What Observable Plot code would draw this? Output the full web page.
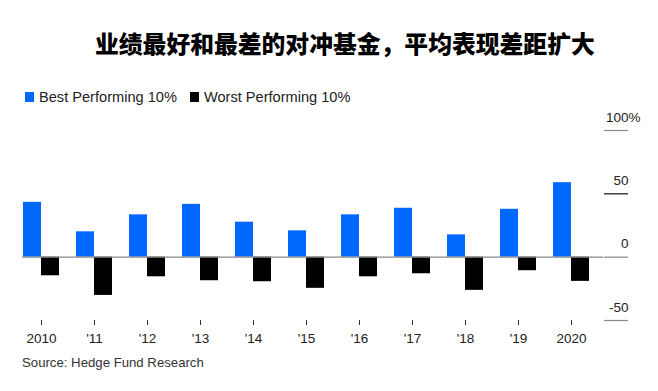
<!DOCTYPE html>
<html>
<head>
<meta charset="utf-8">
<script src="https://cdn.jsdelivr.net/npm/d3@7"></script>
<script src="https://cdn.jsdelivr.net/npm/@observablehq/plot@0.6"></script>
<style>
  html, body { margin: 0; padding: 0; background: #fff; }
  body { width: 658px; height: 391px; overflow: hidden; font-family: "Liberation Sans", Arial, sans-serif; color: #222; }
  #header { position: relative; height: 110px; }
  #title { position: absolute; left: 95px; top: 26px; line-height: 34px; font-family: "Noto Sans CJK SC", sans-serif; font-weight: 900; font-size: 23.8px; color: #000; white-space: nowrap; }
  #legend { position: absolute; left: 25px; top: 85px; height: 24px; line-height: 24px; font-size: 14.6px; color: #222; white-space: nowrap; display: flex; align-items: center; }
  .sw { display: inline-block; width: 9px; height: 10px; margin-right: 5px; }
  .item { display: inline-flex; align-items: center; margin-right: 13px; }
  #source { padding-left: 22px; font-size: 13.2px; line-height: 16px; color: #333; }
  svg { display: block; }
</style>
</head>
<body>
<div id="header"><div id="title"></div><div id="legend"></div></div>
<div id="chart"></div>
<div id="source"></div>
<script>
const titleText = "业绩最好和最差的对冲基金，平均表现差距扩大";
const seriesNames = ["Best Performing 10%", "Worst Performing 10%"];
const seriesColors = ["#0068ff", "#000000"];
const sourceText = "Source: Hedge Fund Research";

const years = [2010, 2011, 2012, 2013, 2014, 2015, 2016, 2017, 2018, 2019, 2020];
const xTickLabels = ["2010", "'11", "'12", "'13", "'14", "'15", "'16", "'17", "'18", "'19", "2020"];
const best = [43.3, 20.0, 33.4, 41.7, 27.6, 20.8, 33.4, 38.6, 17.6, 37.8, 58.8];
const worst = [-14.7, -30.2, -15.5, -18.6, -19.4, -24.6, -15.5, -13.1, -26.2, -10.7, -19.1];
const yTicks = [-50, 0, 50, 100];
const yTickLabels = ["-50", "0", "50", "100"];

document.getElementById("title").textContent = titleText;
document.getElementById("source").textContent = sourceText;
const legend = document.getElementById("legend");
seriesNames.forEach((name, i) => {
  const item = document.createElement("span");
  item.className = "item";
  const sw = document.createElement("span");
  sw.className = "sw";
  sw.style.background = seriesColors[i];
  item.appendChild(sw);
  item.appendChild(document.createTextNode(name));
  legend.appendChild(item);
});

const rows = years.map((year, i) => ({year, best: best[i], worst: worst[i]}));

const chart = Plot.plot({
  width: 658,
  height: 245,
  marginLeft: 22,
  marginRight: 55,
  marginTop: 20,
  marginBottom: 35,
  style: {fontFamily: "'Liberation Sans', Arial, sans-serif", fontSize: "13.5px", color: "#222", background: "white"},
  x: {type: "band", domain: years, paddingInner: 0.329, paddingOuter: 0.078, align: 0.08, label: null},
  y: {domain: [-50, 100], label: null},
  marks: [
    Plot.barY(rows, {x: "year", y1: 0, y2: "best", fill: seriesColors[0], insetRight: 18}),
    Plot.barY(rows, {x: "year", y1: 0, y2: "worst", fill: seriesColors[1], insetLeft: 18}),
    Plot.ruleY([0], {stroke: "#888", strokeWidth: 1.2}),
    Plot.axisY({anchor: "right", ticks: yTicks.filter(v => v !== 50), tickSize: 24, tickFormat: () => "", stroke: "#888", strokeWidth: 1.2, label: null}),
    Plot.axisY({anchor: "right", ticks: [50], tickSize: 24, tickFormat: () => "", stroke: "#111", strokeWidth: 1.2, label: null}),
    Plot.text(yTicks, {y: d => d, text: (d, i) => yTickLabels[i], frameAnchor: "right", textAnchor: "end", dx: 25, dy: -13, fill: "#222"}),
    Plot.text([100], {y: d => d, text: () => "%", frameAnchor: "right", textAnchor: "start", dx: 25, dy: -13, fill: "#222"}),
    Plot.axisX({tickSize: 5, tickPadding: 8, tickFormat: d => xTickLabels[years.indexOf(d)], stroke: "#333", label: null})
  ]
});
document.getElementById("chart").appendChild(chart);
</script>
</body>
</html>
